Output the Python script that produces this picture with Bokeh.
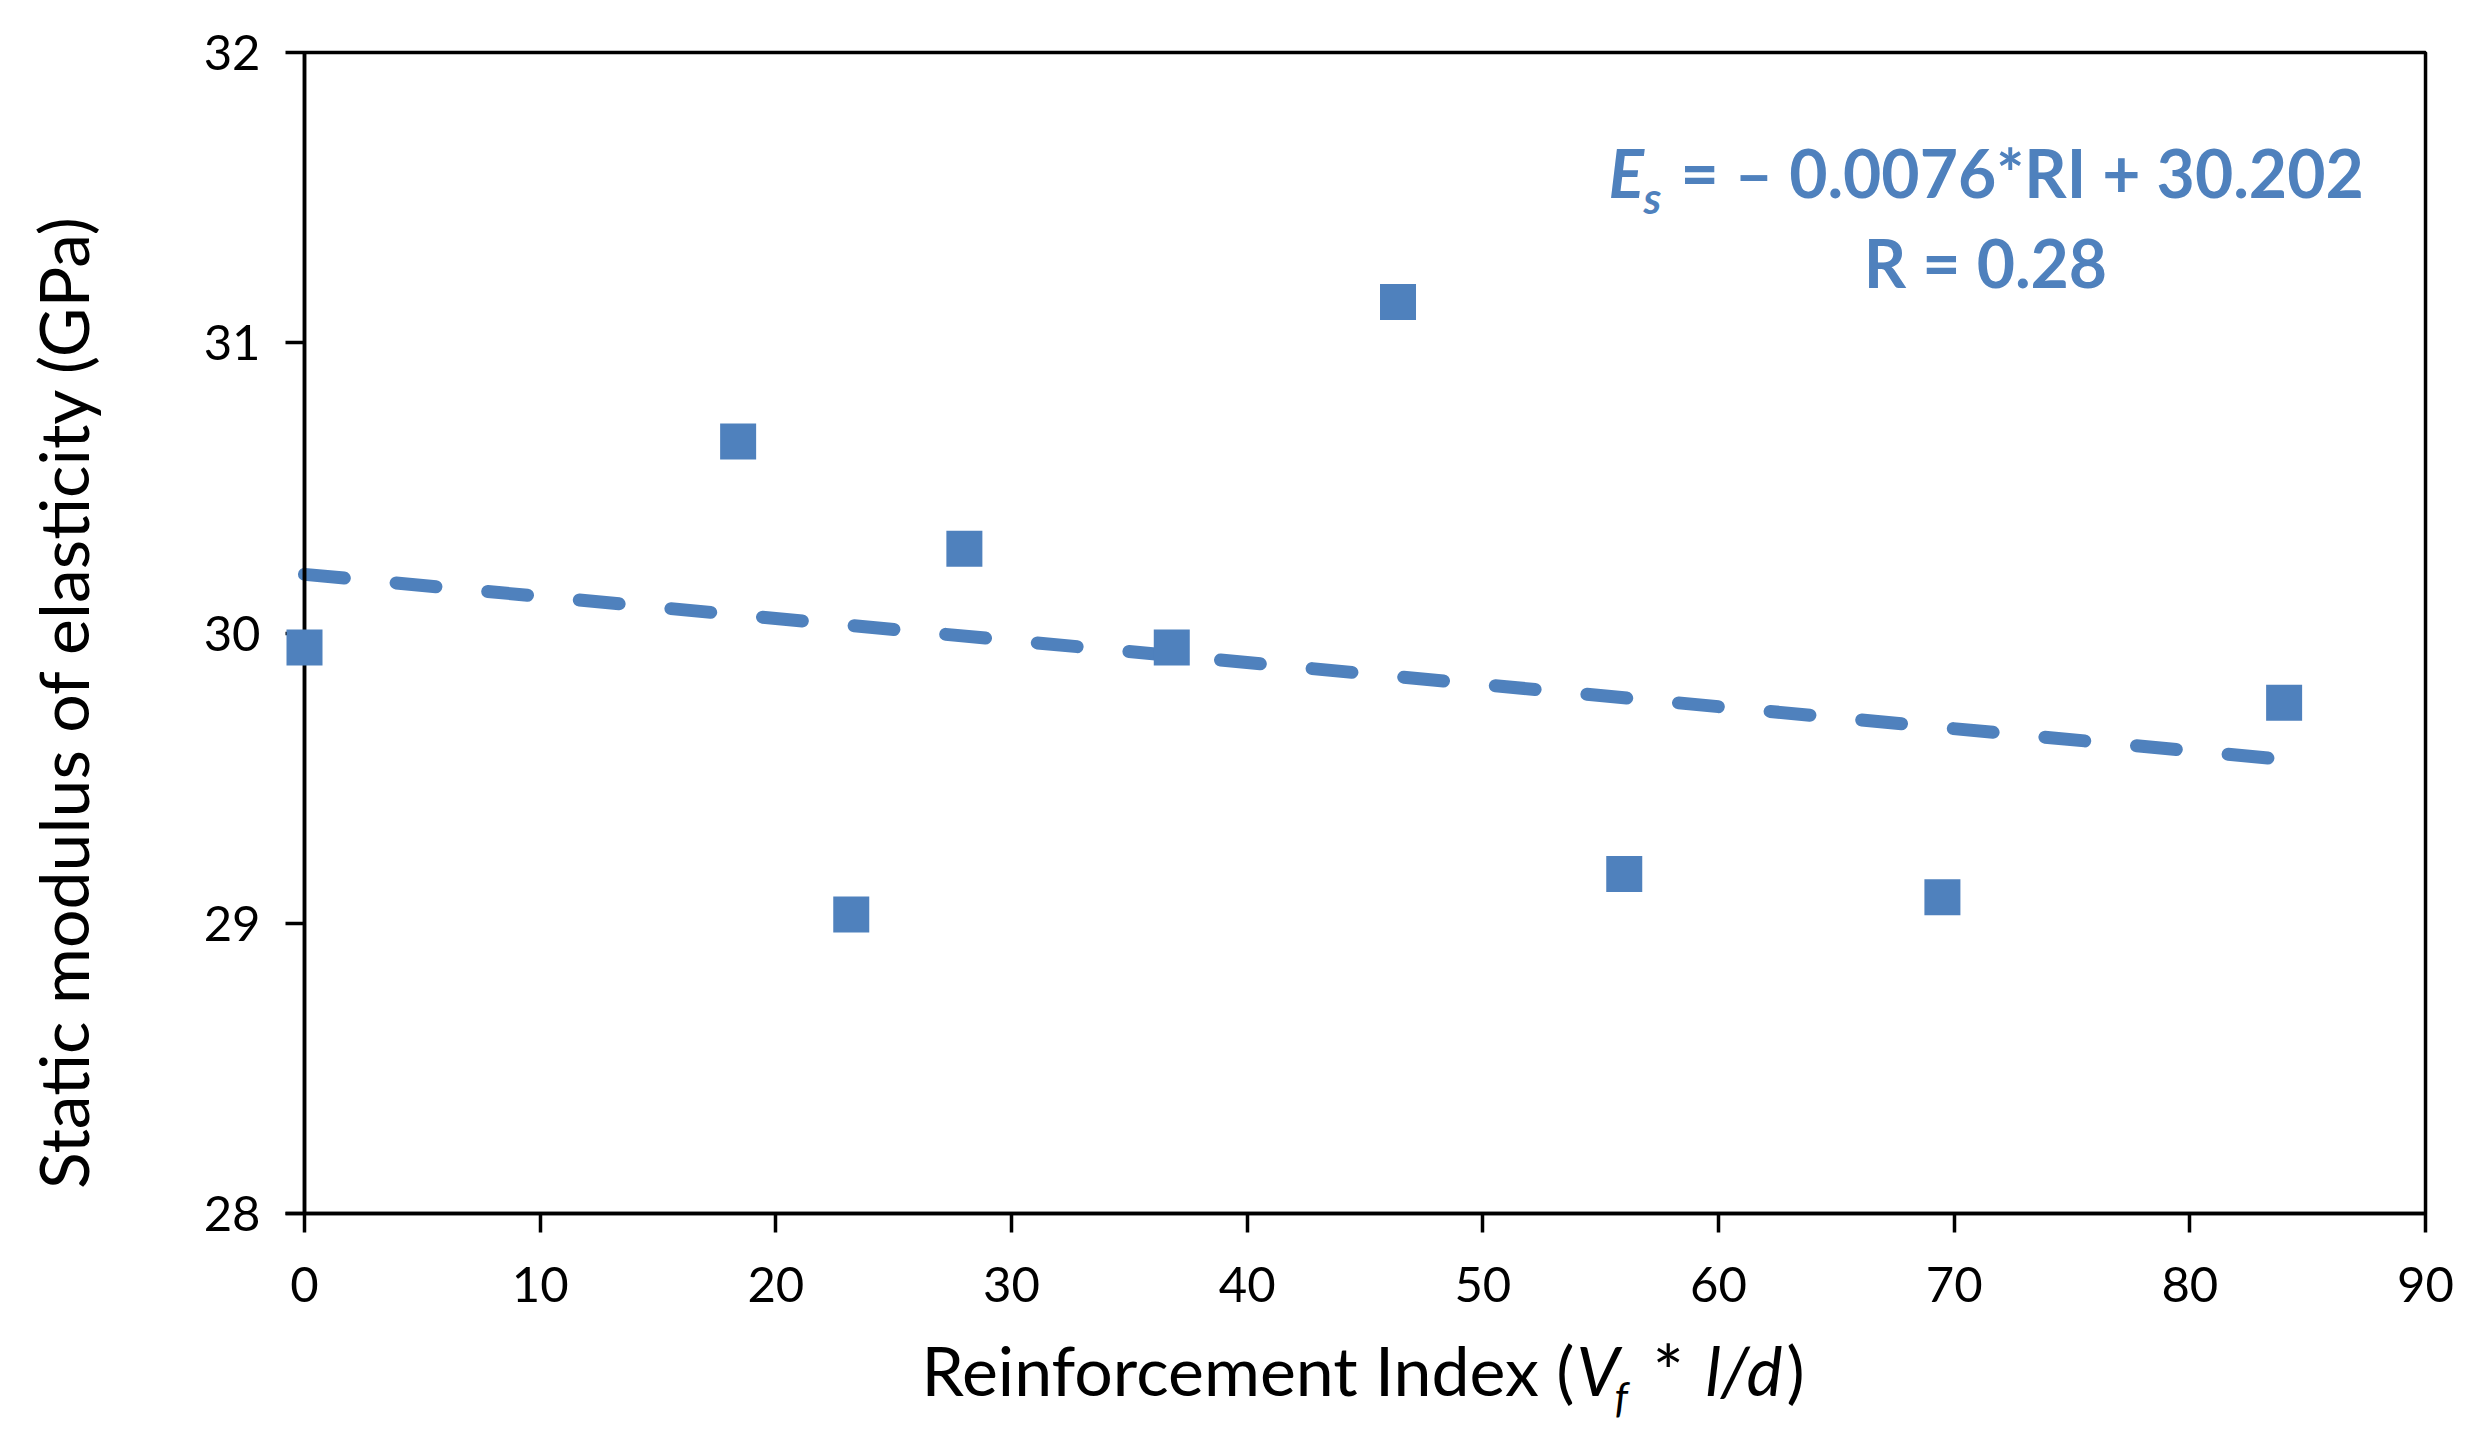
import math
from bokeh.plotting import figure
from bokeh.models import Label, FixedTicker, Range1d, BoxAnnotation
from bokeh.embed import file_html
from bokeh.resources import INLINE

# ---- data ----
ri = [0.0, 18.4, 23.2, 28.0, 36.8, 46.4, 56.0, 69.5, 84.0]
es = [29.95, 30.66, 29.03, 30.29, 29.95, 31.14, 29.17, 29.09, 29.76]
trend_ri = [0.0, 84.0]
trend_es = [30.202, 29.564]
x_ticks = [0, 10, 20, 30, 40, 50, 60, 70, 80, 90]
y_ticks = [28, 29, 30, 31, 32]
x_min, x_max = 0, 90
y_min, y_max = 28, 32
y_title = "Static modulus of elasticity (GPa)"
x_title_parts = ["Reinforcement Index (", "V", "f", "*", "l/d", ")"]
eq_parts = ["E", "s", "= \u2013 0.0076*RI + 30.202"]
eq_r = "R = 0.28"

BLUE = "#4F81BD"
FONT = "Lato"

# ---- layout: the frame fills the canvas, axes sit at fixed locations ----
W, H = 2474, 1431
PX_X = 23.567          # px per x unit
PX_Y = 290.25          # px per y unit
ORG_X, ORG_Y = 304, 52  # canvas px of x=0 and of y=32

p = figure(width=W, height=H, output_backend="svg", toolbar_location=None,
           x_range=Range1d(-ORG_X / PX_X, (W - ORG_X) / PX_X),
           y_range=Range1d(y_max - (H - ORG_Y) / PX_Y, y_max + ORG_Y / PX_Y),
           min_border=0, min_border_left=0, min_border_right=0,
           min_border_top=0, min_border_bottom=0,
           background_fill_color="white", border_fill_color="white")
p.grid.visible = False
p.outline_line_color = None

for ax in (p.xaxis[0], p.yaxis[0]):
    ax.axis_line_color = "black"
    ax.axis_line_width = 3.5
    ax.major_tick_line_color = "black"
    ax.major_tick_line_width = 3.5
    ax.major_tick_in = 0
    ax.major_tick_out = 19
    ax.minor_tick_line_color = None
    ax.major_label_text_font = FONT
    ax.major_label_text_font_size = "49px"
    ax.major_label_text_color = "black"
p.xaxis.major_label_standoff = 34
p.yaxis.major_label_standoff = 25

p.xaxis.ticker = FixedTicker(ticks=x_ticks)
p.yaxis.ticker = FixedTicker(ticks=y_ticks)
p.xaxis.fixed_location = y_min
p.yaxis.fixed_location = x_min
p.xaxis.bounds = (x_min - 19 / PX_X, x_max)
p.yaxis.bounds = (y_min, y_max)

# plot-area box (top and right edges)
p.add_layout(BoxAnnotation(left=x_min, right=x_max, bottom=y_min, top=y_max,
                           fill_alpha=0, line_color="black", line_alpha=1.0,
                           line_width=3.5))

# trend line and points
p.line(trend_ri, trend_es, line_color=BLUE, line_width=13, line_dash="40 52",
       line_cap="round")
p.scatter(ri, es, marker="square", size=36, fill_color=BLUE, line_color=None,
          level="overlay")

# reference-pixel -> data helpers for text placement
X0_PX, YT_PX = 306.0, 54.0
def dx(px):
    return (px - X0_PX) / PX_X
def dy(py):
    return y_max - (py - YT_PX) / PX_Y

BASE = 0.38  # baseline correction (fraction of font size)

def add_text(text, px, py, size, style, align, color):
    p.add_layout(Label(x=dx(px), y=dy(py - BASE * size), text=text,
                       text_font=FONT, text_font_size=f"{size}px",
                       text_font_style=style, text_align=align,
                       text_baseline="alphabetic", text_color=color))

# y axis title (rotated)
p.add_layout(Label(x=dx(90 - BASE * 68), y=dy(703), text=y_title, angle=math.pi / 2,
                   text_font=FONT, text_font_size="68px", text_align="center",
                   text_baseline="alphabetic", text_color="black"))

# x axis title with italic / subscript parts
xt = x_title_parts
add_text(xt[0], 1576, 1397, 68, "normal", "right", "black")
add_text(xt[1], 1578, 1397, 68, "italic", "left", "black")
add_text(xt[2], 1616, 1414, 42, "italic", "left", "black")
add_text(xt[3], 1654, 1400, 74, "normal", "left", "black")
add_text(xt[4], 1707, 1397, 68, "italic", "left", "black")
add_text(xt[5], 1788, 1397, 68, "normal", "left", "black")

# regression equation
add_text(eq_parts[0], 1610, 199, 66, "bold italic", "left", BLUE)
add_text(eq_parts[1], 1645, 215, 44, "bold italic", "left", BLUE)
add_text(eq_parts[2], 1682, 199, 66, "bold", "left", BLUE)
add_text(eq_r, 1987, 289, 66, "bold", "center", BLUE)

open("out.html", "w").write(file_html(p, INLINE))
